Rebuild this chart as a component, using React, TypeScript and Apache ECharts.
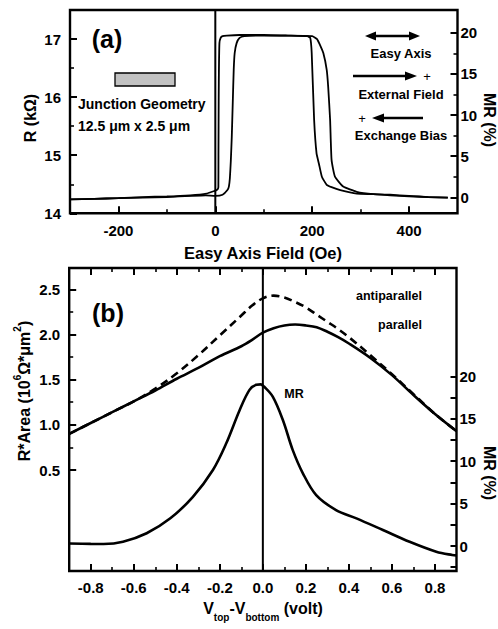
import React, { useEffect, useRef } from 'react';
import * as echarts from 'echarts';

// ---------- Panel (a): R vs easy-axis field (hysteresis loop) ----------
const fieldUp = [-300, -250, -200, -150, -100, -50, -20, 0, 15, 25, 28, 30, 32, 34, 36, 38, 40, 44, 50, 60, 100, 150, 200, 210, 216, 223, 230, 233, 237, 240, 247, 264, 292, 326, 361, 400, 440, 480];
const resistanceUp = [14.24, 14.25, 14.26, 14.27, 14.28, 14.3, 14.31, 14.3, 14.32, 14.4, 14.46, 14.6, 14.9, 15.32, 15.9, 16.47, 16.76, 16.93, 17.02, 17.05, 17.06, 17.06, 17.05, 17.0, 16.9, 16.76, 16.47, 16.18, 15.61, 14.92, 14.63, 14.46, 14.37, 14.33, 14.32, 14.3, 14.28, 14.27];
const fieldDown = [480, 440, 400, 361, 326, 292, 258, 240, 230, 220, 214, 209, 204, 199, 196, 190, 150, 100, 50, 24, 15, 11, 8.5, 7.5, 7, 6.5, 6.3, 3, -4, -18, -52, -100, -150, -200, -250, -300];
const resistanceDown = [14.27, 14.28, 14.29, 14.31, 14.33, 14.34, 14.4, 14.45, 14.49, 14.63, 14.85, 15.03, 15.61, 16.76, 17.02, 17.05, 17.06, 17.07, 17.07, 17.06, 17.05, 17.02, 16.93, 16.5, 16.0, 15.0, 14.45, 14.4, 14.38, 14.34, 14.31, 14.29, 14.28, 14.26, 14.25, 14.24];

// ---------- Panel (b): R*Area and MR vs bias ----------
const biasVoltage = [-0.9, -0.8, -0.7, -0.6, -0.5, -0.4, -0.3, -0.2, -0.1, -0.05, 0, 0.05, 0.1, 0.15, 0.2, 0.25, 0.3, 0.35, 0.4, 0.5, 0.6, 0.7, 0.8, 0.9];
const rAreaParallel = [0.9, 1.02, 1.14, 1.26, 1.38, 1.51, 1.63, 1.76, 1.87, 1.94, 2.02, 2.07, 2.1, 2.11, 2.1, 2.08, 2.03, 1.97, 1.9, 1.74, 1.55, 1.33, 1.12, 0.93];
const rAreaAntiparallel = [0.9, 1.02, 1.14, 1.26, 1.4, 1.57, 1.77, 1.99, 2.21, 2.32, 2.4, 2.43, 2.41, 2.36, 2.3, 2.22, 2.14, 2.06, 1.97, 1.77, 1.56, 1.34, 1.12, 0.93];
const mrVoltage = [-0.9, -0.8, -0.74, -0.65, -0.54, -0.43, -0.325, -0.232, -0.17, -0.108, -0.062, -0.03, -0.01, 0.005, 0.046, 0.093, 0.139, 0.186, 0.248, 0.34, 0.435, 0.558, 0.682, 0.806, 0.88, 0.9];
const mrPercent = [0.3, 0.25, 0.24, 0.5, 1.5, 3.26, 5.8, 8.96, 12.1, 16.0, 18.4, 19.0, 19.05, 18.8, 17.6, 14.85, 11.3, 8.57, 6.0, 4.24, 3.26, 1.89, 0.5, -0.67, -1.06, -1.1];

// tick label values
const fieldTicks = { min: -200, max: 400, step: 200 };
const rTicks = { min: 14, max: 17, step: 1 };
const mrTicksA = { min: 0, max: 20, step: 5 };
const voltTicks = { min: -0.8, max: 0.8, step: 0.2 };
const rAreaTicks = { min: 0.5, max: 2.5, step: 0.5 };
const mrTicksB = { min: -2.5, max: 20, step: 2.5 };

const FONT = '"Liberation Sans", Arial, Helvetica, sans-serif';
const LAYER_COUNT = 9;

const zip = (xs: number[], ys: number[]) => xs.map((x, i) => [x, ys[i]]);

export default function App() {
  const refs = useRef<(HTMLDivElement | null)[]>([]);
  useEffect(() => {
    const charts = refs.current.slice(0, LAYER_COUNT).map((el) => echarts.init(el as HTMLDivElement, null, { renderer: 'svg' }));

    // Panel (a) frame
    const aL = 70, aR = 457.5, aT = 10, aB = 213.3;
    const aXMin = -300, aXMax = 500, aYMin = 14, aYMax = 17.5;
    const xA = (v: number) => aL + ((v - aXMin) / (aXMax - aXMin)) * (aR - aL);
    const yA = (v: number) => aB - ((v - aYMin) / (aYMax - aYMin)) * (aB - aT);
    const mrA0 = 197.3, mrA20 = 32.7;

    // Panel (b) frame
    const bL = 69.2, bR = 456.5, bT = 268, bB = 571;
    const bXMin = -0.9, bXMax = 0.9;
    const xB = (v: number) => bL + ((v - bXMin) / (bXMax - bXMin)) * (bR - bL);
    const yB05 = 470, yB25 = 289.3;
    const kB = (yB05 - yB25) / 2;
    const bYMin = 0.5 - (bB - yB05) / kB;
    const bYMax = 2.5 + (yB25 - bT) / kB;
    const mrB0 = 546, mrB20 = 376.3;
    const kMR = (mrB0 - mrB20) / 20;
    const mrBBottom = mrB0 + 2.5 * kMR;

    const box = (l: number, t: number, r: number, b: number, show = false) => (show
      ? { left: l, top: t, width: r - l, height: b - t, show: true, borderColor: '#000', borderWidth: 2.4 }
      : { left: l, top: t, width: r - l, height: b - t });

    const hiddenG = (gridIndex: number, min: number, max: number) => ({
      type: 'value', gridIndex, min, max, show: false, splitLine: { show: false },
      axisLine: { show: false, onZero: false },
    });
    const hidden = (min: number, max: number) => hiddenG(0, min, max);

    const label = { color: '#000', fontFamily: FONT, fontWeight: 'bold', fontSize: 15 };
    const tickAxis = (t: { min: number; max: number; step: number }, extra: any) => ({
      type: 'value', gridIndex: 0, min: t.min, max: t.max, interval: t.step,
      axisLine: { show: true, onZero: false, lineStyle: { color: '#000', width: 1 } },
      splitLine: { show: false },
      axisTick: { show: true, inside: true, length: 7, lineStyle: { color: '#000', width: 2 } },
      minorTick: { show: true, splitNumber: 2, length: 4, lineStyle: { color: '#000', width: 1.6 } },
      ...extra,
    });

    const fmt1 = (v: number) => (Math.abs(v) < 1e-9 ? 0 : v).toFixed(1);

    // ----- layer 0: frames and curves -----
    const lineBase = { type: 'line', symbol: 'none', silent: true };
    charts[0].setOption({
      animation: false,
      backgroundColor: '#fff',
      grid: [box(aL, aT, aR, aB, true), box(bL, bT, bR, bB, true), box(bL, mrB20, bR, mrBBottom)],
      xAxis: [hiddenG(0, aXMin, aXMax), hiddenG(1, bXMin, bXMax), hiddenG(2, bXMin, bXMax)],
      yAxis: [hiddenG(0, aYMin, aYMax), hiddenG(1, bYMin, bYMax), hiddenG(2, mrTicksB.min, mrTicksB.max)],
      series: [
        { ...lineBase, xAxisIndex: 0, yAxisIndex: 0, data: [[0, aYMin], [0, aYMax]], lineStyle: { color: '#000', width: 2 } },
        { ...lineBase, name: 'up', xAxisIndex: 0, yAxisIndex: 0, data: zip(fieldUp, resistanceUp), smooth: 0.15, lineStyle: { color: '#000', width: 1.8 } },
        { ...lineBase, name: 'down', xAxisIndex: 0, yAxisIndex: 0, data: zip(fieldDown, resistanceDown), smooth: 0.15, lineStyle: { color: '#000', width: 1.8 } },
        { ...lineBase, xAxisIndex: 1, yAxisIndex: 1, data: [[0, bYMin], [0, bYMax]], lineStyle: { color: '#000', width: 2 } },
        { ...lineBase, name: 'parallel', xAxisIndex: 1, yAxisIndex: 1, data: zip(biasVoltage, rAreaParallel), smooth: 0.35, lineStyle: { color: '#000', width: 2.6 } },
        { ...lineBase, name: 'antiparallel', xAxisIndex: 1, yAxisIndex: 1, data: zip(biasVoltage, rAreaAntiparallel), smooth: 0.35, lineStyle: { color: '#000', width: 2.6, type: [8, 5] } },
        { ...lineBase, name: 'MR', xAxisIndex: 2, yAxisIndex: 2, data: zip(mrVoltage, mrPercent), smooth: 0.35, lineStyle: { color: '#000', width: 2.6 } },
      ],
    });

    // ----- layers 1..7: one tick axis each -----
    const tickLayers: any[] = [
      { grid: box(aL, yA(17), aR, aB), xAxis: hidden(aXMin, aXMax), yAxis: tickAxis(rTicks, { position: 'left', axisLabel: { ...label, margin: 9 } }) },
      { grid: box(aL, mrA20, aR, mrA0), xAxis: hidden(aXMin, aXMax), yAxis: tickAxis(mrTicksA, { position: 'right', axisLabel: { ...label, margin: 3 } }) },
      { grid: box(xA(-200), aT, xA(400), aB), xAxis: tickAxis(fieldTicks, { position: 'bottom', axisLabel: { ...label, margin: 10 } }), yAxis: hidden(aYMin, aYMax) },
      { grid: box(bL, yB25, bR, yB05), xAxis: hidden(bXMin, bXMax), yAxis: tickAxis(rAreaTicks, { position: 'left', axisLabel: { ...label, margin: 9, formatter: fmt1 } }) },
      {
        grid: box(bL, mrB20, bR, mrBBottom), xAxis: hidden(bXMin, bXMax),
        yAxis: tickAxis(mrTicksB, {
          position: 'right',
          axisTick: { show: true, inside: true, length: 6, lineStyle: { color: '#000', width: 2 } },
          minorTick: { show: false },
          axisLabel: { ...label, margin: 3, formatter: (v: number) => (v >= 0 && Math.abs(v % 5) < 1e-6 ? String(v) : '') },
        }),
      },
      { grid: box(xB(-0.8), bT, xB(0.8), bB), xAxis: tickAxis(voltTicks, { position: 'bottom', axisLabel: { ...label, margin: 9, formatter: fmt1 } }), yAxis: hidden(bYMin, bYMax) },
      { grid: box(xB(-0.8), bT, xB(0.8), bB), xAxis: tickAxis(voltTicks, { position: 'top', axisLabel: { show: false } }), yAxis: hidden(bYMin, bYMax) },
    ];
    tickLayers.forEach((L, i) => {
      charts[i + 1].setOption({
        animation: false,
        backgroundColor: 'transparent',
        grid: [L.grid],
        xAxis: [L.xAxis],
        yAxis: [L.yAxis],
        series: [],
      });
    });

    // ----- layer 8: annotations -----
    const txt = (x: number, y: number, text: string, size: number, opts: any = {}) => {
      const style: any = {
        text, fill: '#000', fontFamily: FONT, fontWeight: opts.weight || 'bold', fontSize: size,
        align: opts.align || 'center', verticalAlign: 'middle',
      };
      if (opts.rich) style.rich = opts.rich;
      const el: any = { type: 'text', x, y, silent: true, style };
      if (opts.rotation) el.rotation = opts.rotation;
      return el;
    };
    const ln = (x1: number, y1: number, x2: number, y2: number, w = 2.6) => ({
      type: 'line', shape: { x1, y1, x2, y2 }, silent: true, style: { stroke: '#000', lineWidth: w },
    });
    const tri = (pts: number[][]) => ({ type: 'polygon', shape: { points: pts }, silent: true, style: { fill: '#000' } });

    const graphic: any[] = [
      txt(107, 39, '(a)', 25),
      { type: 'rect', shape: { x: 115, y: 73, width: 60, height: 13 }, silent: true, style: { fill: '#c2c2c2', stroke: '#000', lineWidth: 1.3 } },
      txt(78, 104, 'Junction Geometry', 14, { align: 'left' }),
      txt(78, 126, '12.5 \u03bcm x 2.5 \u03bcm', 14, { align: 'left' }),
      ln(372, 36, 413, 36),
      tri([[365, 36], [376, 31.5], [376, 40.5]]),
      tri([[420, 36], [409, 31.5], [409, 40.5]]),
      txt(401, 53, 'Easy Axis', 13),
      ln(353, 76, 408, 76),
      tri([[417, 76], [405, 71.5], [405, 80.5]]),
      txt(427, 76, '+', 13, { weight: 'normal' }),
      txt(401, 94, 'External Field', 13),
      ln(381, 118, 423, 118),
      tri([[372, 118], [384, 113.5], [384, 122.5]]),
      txt(362, 118, '+', 13, { weight: 'normal' }),
      txt(401, 135, 'Exchange Bias', 13),
      txt(30, 118, 'R (k\u03a9)', 16, { rotation: Math.PI / 2 }),
      txt(489, 120, 'MR (%)', 16, { rotation: -Math.PI / 2 }),
      txt(263, 253, 'Easy Axis Field (Oe)', 16.5),
      txt(108, 313, '(b)', 25),
      txt(389, 296, 'antiparallel', 12.5),
      txt(400, 325, 'parallel', 12.5),
      txt(294, 394, 'MR', 12.5),
      txt(22, 391, '{m|R*Area (10}{p|6}{m|\u03a9*\u03bcm}{p|2}{m|)}', 16, {
        rotation: Math.PI / 2,
        rich: {
          m: { fontFamily: FONT, fontWeight: 'bold', fontSize: 16, fill: '#000', lineHeight: 20, verticalAlign: 'bottom' },
          p: { fontFamily: FONT, fontWeight: 'bold', fontSize: 10, fill: '#000', lineHeight: 20, verticalAlign: 'top', padding: [0, 0, 8, 0] },
        },
      }),
      txt(489, 473, 'MR (%)', 16, { rotation: -Math.PI / 2 }),
      txt(263, 611, '{m|V}{s|top}{m|-V}{s|bottom}{m| (volt)}', 16, {
        rich: {
          m: { fontFamily: FONT, fontWeight: 'bold', fontSize: 16, fill: '#000', lineHeight: 22, verticalAlign: 'top' },
          s: { fontFamily: FONT, fontWeight: 'bold', fontSize: 10, fill: '#000', lineHeight: 22, verticalAlign: 'bottom', padding: [8, 0, 0, 0] },
        },
      }),
    ];
    charts[8].setOption({ animation: false, backgroundColor: 'transparent', graphic });

    return () => {
      charts.forEach((c) => c.dispose());
    };
  }, []);

  return (
    <div style={{ position: 'fixed', left: 0, top: 0, width: 498, height: 629, background: '#fff' }}>
      {Array.from({ length: LAYER_COUNT }, (_, i) => (
        <div
          key={i}
          ref={(el) => { refs.current[i] = el; }}
          style={{ position: 'absolute', left: 0, top: 0, width: 498, height: 629, pointerEvents: i === 0 ? 'auto' : 'none' }}
        />
      ))}
    </div>
  );
}
